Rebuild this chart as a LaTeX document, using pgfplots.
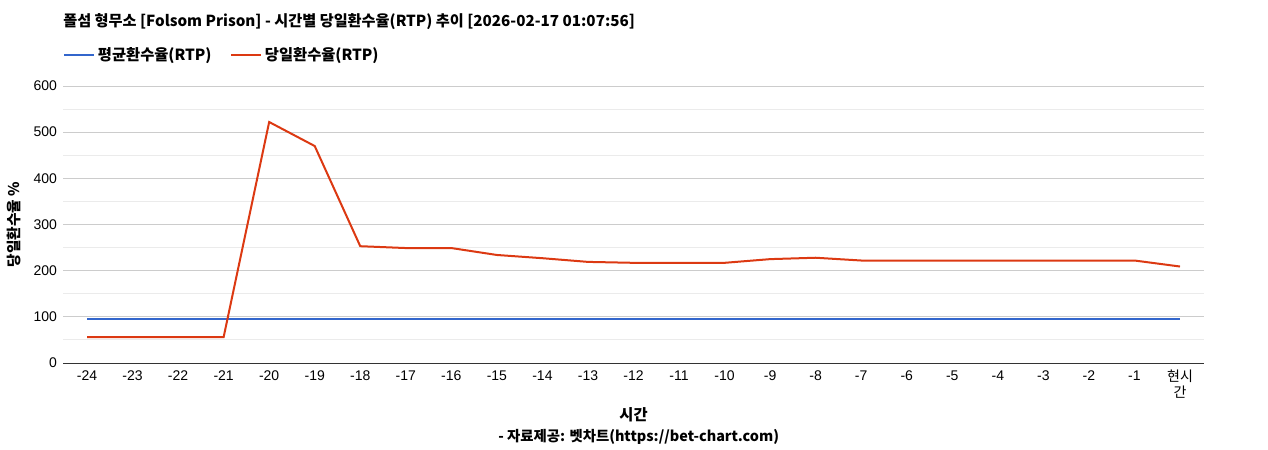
\documentclass[border=0pt]{standalone}
\usepackage{fontspec}
\setmainfont{Liberation Sans}
\newfontfamily\kr{Noto Sans CJK KR}
\usepackage{pgfplots}
\pgfplotsset{compat=1.18}
\definecolor{avgblue}{HTML}{3366CC}
\definecolor{dayred}{HTML}{DC3912}
\definecolor{majgrid}{HTML}{CCCCCC}
\definecolor{mingrid}{HTML}{EBEBEB}
\begin{document}
\begin{tikzpicture}
\useasboundingbox (0pt,0pt) rectangle (951pt,337.5pt);
\begin{axis}[
  name=main,
  at={(47.25pt,65.25pt)}, anchor=south west,
  scale only axis,
  width=855.75pt, height=207.75pt,
  xmin=-0.527, xmax=24.527,
  ymin=0, ymax=600,
  xtick={0,...,24},
  xticklabels={-24,-23,-22,-21,-20,-19,-18,-17,-16,-15,-14,-13,-12,-11,-10,-9,-8,-7,-6,-5,-4,-3,-2,-1,{\kr 현시\\\kr 간}},
  ytick={0,100,...,600},
  minor ytick={50,150,...,550},
  ymajorgrids, yminorgrids,
  major grid style={majgrid, line width=0.75pt},
  minor grid style={mingrid, line width=0.75pt},
  major tick length=0pt, minor tick length=0pt,
  axis x line*=bottom, axis y line*=left,
  x axis line style={draw=black!80, line width=0.75pt, -},
  y axis line style={draw=none},
  tick label style={font=\fontsize{10.5}{12}\selectfont, align=center},
  xticklabel style={yshift=-2pt},
  yticklabel style={xshift=-1pt},
  /pgf/number format/assume math mode=true,
  xlabel={\kr\bfseries 시간},
  xlabel style={at={(axis description cs:0.5,-0.188)}, anchor=center, font=\fontsize{11.5}{12}\selectfont},
  ylabel={\kr\bfseries 당일환수율 \%},
  ylabel style={at={(axis description cs:-0.043,0.5)}, anchor=center, font=\fontsize{11}{12}\selectfont},
  title={\kr\bfseries 폴섬 형무소 [Folsom Prison] - 시간별 당일환수율(RTP) 추이 [2026-02-17 01:07:56]},
  title style={at={(axis description cs:0,1.202)}, anchor=west, inner sep=0pt, font=\fontsize{11.4}{12}\selectfont},
  legend columns=2,
  legend style={at={(axis description cs:0,1.112)}, anchor=west, draw=none, fill=none, inner sep=0pt,
    font=\kr\bfseries\fontsize{11.5}{12}\selectfont,
    /tikz/every even column/.append style={column sep=12pt}},
  legend image code/.code={\draw[#1, line width=1.5pt] (0,0) -- (22.5pt,0);},
]
\addplot[avgblue, line width=1.5pt] coordinates {
  (0,96) (1,96) (2,96) (3,96) (4,96) (5,96) (6,96) (7,96) (8,96) (9,96)
  (10,96) (11,96) (12,96) (13,96) (14,96) (15,96) (16,96) (17,96) (18,96)
  (19,96) (20,96) (21,96) (22,96) (23,96) (24,96)
};
\addlegendentry{평균환수율(RTP)}
\addplot[dayred, line width=1.5pt] coordinates {
  (0,56) (1,56) (2,56) (3,56) (4,522) (5,470) (6,253) (7,249) (8,249)
  (9,234) (10,227) (11,219) (12,217) (13,217) (14,217) (15,225) (16,228)
  (17,222) (18,222) (19,222) (20,222) (21,222) (22,222) (23,222) (24,209)
};
\addlegendentry{당일환수율(RTP)}
\end{axis}
\node[font=\kr\bfseries\fontsize{10.8}{12}\selectfont, anchor=center]
  at (479pt,10pt) {- 자료제공: 벳차트(https://bet-chart.com)};
\end{tikzpicture}
\end{document}
